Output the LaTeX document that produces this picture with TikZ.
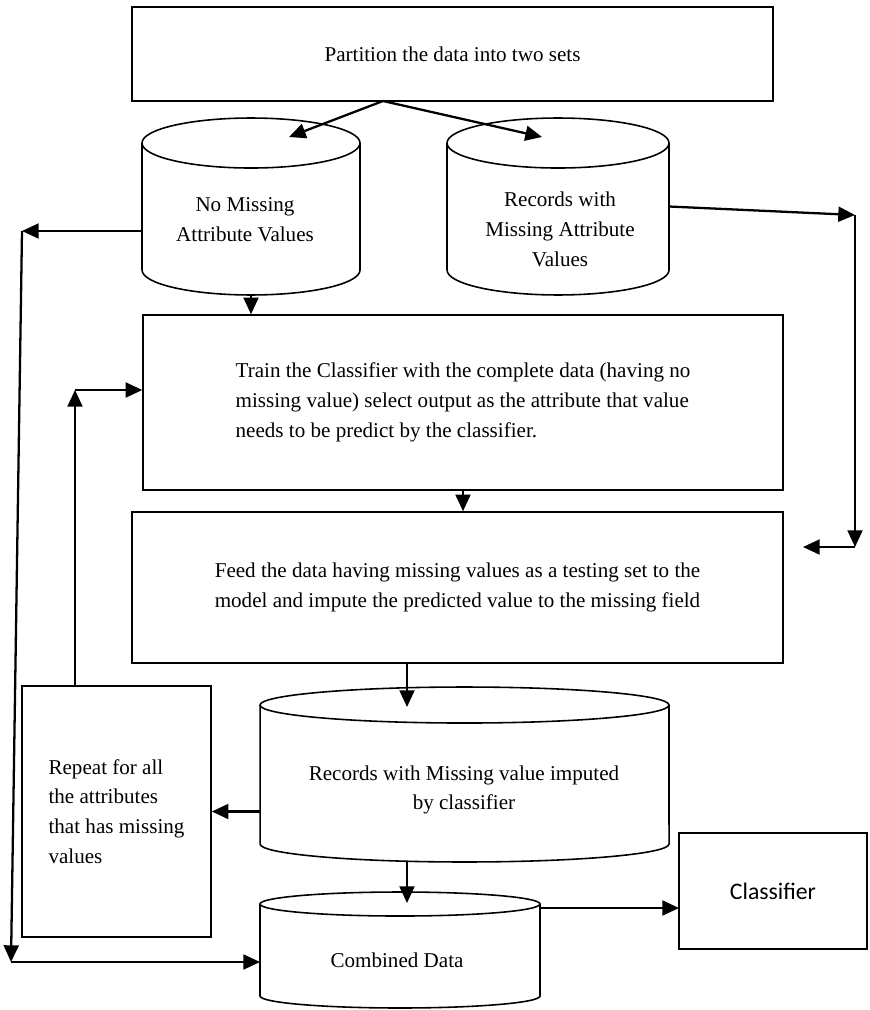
\documentclass[tikz,border=0pt]{standalone}
\usepackage{fontspec}
\setmainfont{Liberation Serif}
\newfontfamily\calibrifont{Carlito}
\usepackage{tikz}
\usetikzlibrary{arrows.meta,calc}

% data store outline round a named node: node, x radius, y radius
\newcommand{\drum}[3]{%
	\draw[line width=0.9pt] ($(#1.north)+(0,#3)$) ellipse [x radius=#2, y radius=#3];
	\draw[line width=0.9pt] ($(#1.north west)+(0,#3)$) -- ($(#1.south west)+(0,-#3)$)
		arc [start angle=180, end angle=0, x radius=#2, y radius=#3] -- ($(#1.north east)+(0,#3)$);
}

\begin{document}
\begin{tikzpicture}[x=0.02cm,y=-0.02cm,
	box/.style={draw,line width=0.9pt,rectangle,inner sep=0pt,font=\fontsize{12}{17}\selectfont},
	db/.style={rectangle,inner sep=0pt,outer sep=0pt},
	txt/.style={align=center,font=\fontsize{12}{17}\selectfont},
	arr/.style={-{Triangle[length=9.5pt,width=8.5pt]},line width=1.3pt}]
	\useasboundingbox (0,0) rectangle (869,1010);
	%
	%  BOXES AND DATA STORES
	%
	\node[box,minimum width=12.82cm,minimum height=1.88cm] (part) at (452.5,54) {Partition the data into two sets};
	\node[db,minimum width=4.36cm,minimum height=3.54cm] (nomiss) at (251,206.5) {};
	\drum{nomiss}{109}{25}
	\node[txt] (nomisstxt) at (245,220) {No Missing\\Attribute Values};
	\node[db,minimum width=4.44cm,minimum height=3.54cm] (withmiss) at (558,206.5) {};
	\drum{withmiss}{111}{25}
	\node[txt] (withmisstxt) at (560,229) {Records with\\Missing Attribute\\Values};
	\node[box,minimum width=12.8cm,minimum height=3.5cm,align=left] (train) at (463,402.5) {Train the Classifier with the complete data (having no\\missing value) select output as the attribute that value\\needs to be predict by the classifier.};
	\node[box,minimum width=13.02cm,minimum height=3.02cm,align=left] (feed) at (457.5,587.5) {Feed the data having missing values as a testing set to the\\model and impute the predicted value to the missing field};
	\node[box,minimum width=3.78cm,minimum height=5.02cm,align=left] (repeat) at (116.5,811.5) {Repeat for all\\the attributes\\that has missing\\values};
	\node[db,minimum width=8.18cm,minimum height=3.5cm] (imputed) at (464.5,774.5) {};
	\drum{imputed}{204.5}{18}
	\node[txt] (imputedtxt) at (464,790) {Records with Missing value imputed\\by classifier};
	\node[db,minimum width=5.6cm,minimum height=2.32cm] (combined) at (400,950) {};
	\drum{combined}{140}{12}
	\node[txt] (combinedtxt) at (397,960) {Combined Data};
	\node[box,minimum width=3.76cm,minimum height=2.32cm,font=\calibrifont\fontsize{13.5}{16}\selectfont] (clf) at (773,891) {Classifier};
	%
	%  BENDS
	%
	\coordinate (split) at (383,101);
	\coordinate (in1) at (289,137);
	\coordinate (in2) at (542,137);
	\coordinate (l1) at (22,231);
	\coordinate (l2) at (11,962);
	\coordinate (r1) at (855,215);
	\coordinate (r2) at (855,547);
	\coordinate (r3) at (803,547);
	\coordinate (u1) at (75,390);
	\coordinate (in3) at (407,707);
	\coordinate (in4) at (407,903);
	\coordinate (c5) at (679,908);
	%
	%  ARROWS
	%
	\path[arr]
	(split) edge (in1)
	(split) edge (in2)
	(nomiss.south) edge (nomiss.south |- train.north)
	(nomiss.west |- l1) edge (l1)
	(l1) edge (l2)
	(l2) edge (combined.west |- l2)
	(withmiss.east) edge (r1)
	(r1) edge (r2)
	(r2) edge (r3)
	(train.south) edge (train.south |- feed.north)
	(feed.south -| in3) edge (in3)
	(imputed.west |- repeat.east) edge (repeat.east)
	(imputed.south -| in4) edge (in4)
	(combined.east |- c5) edge (c5)
	(repeat.north -| u1) edge (u1)
	(u1) edge (train.west |- u1);
\end{tikzpicture}
\end{document}
